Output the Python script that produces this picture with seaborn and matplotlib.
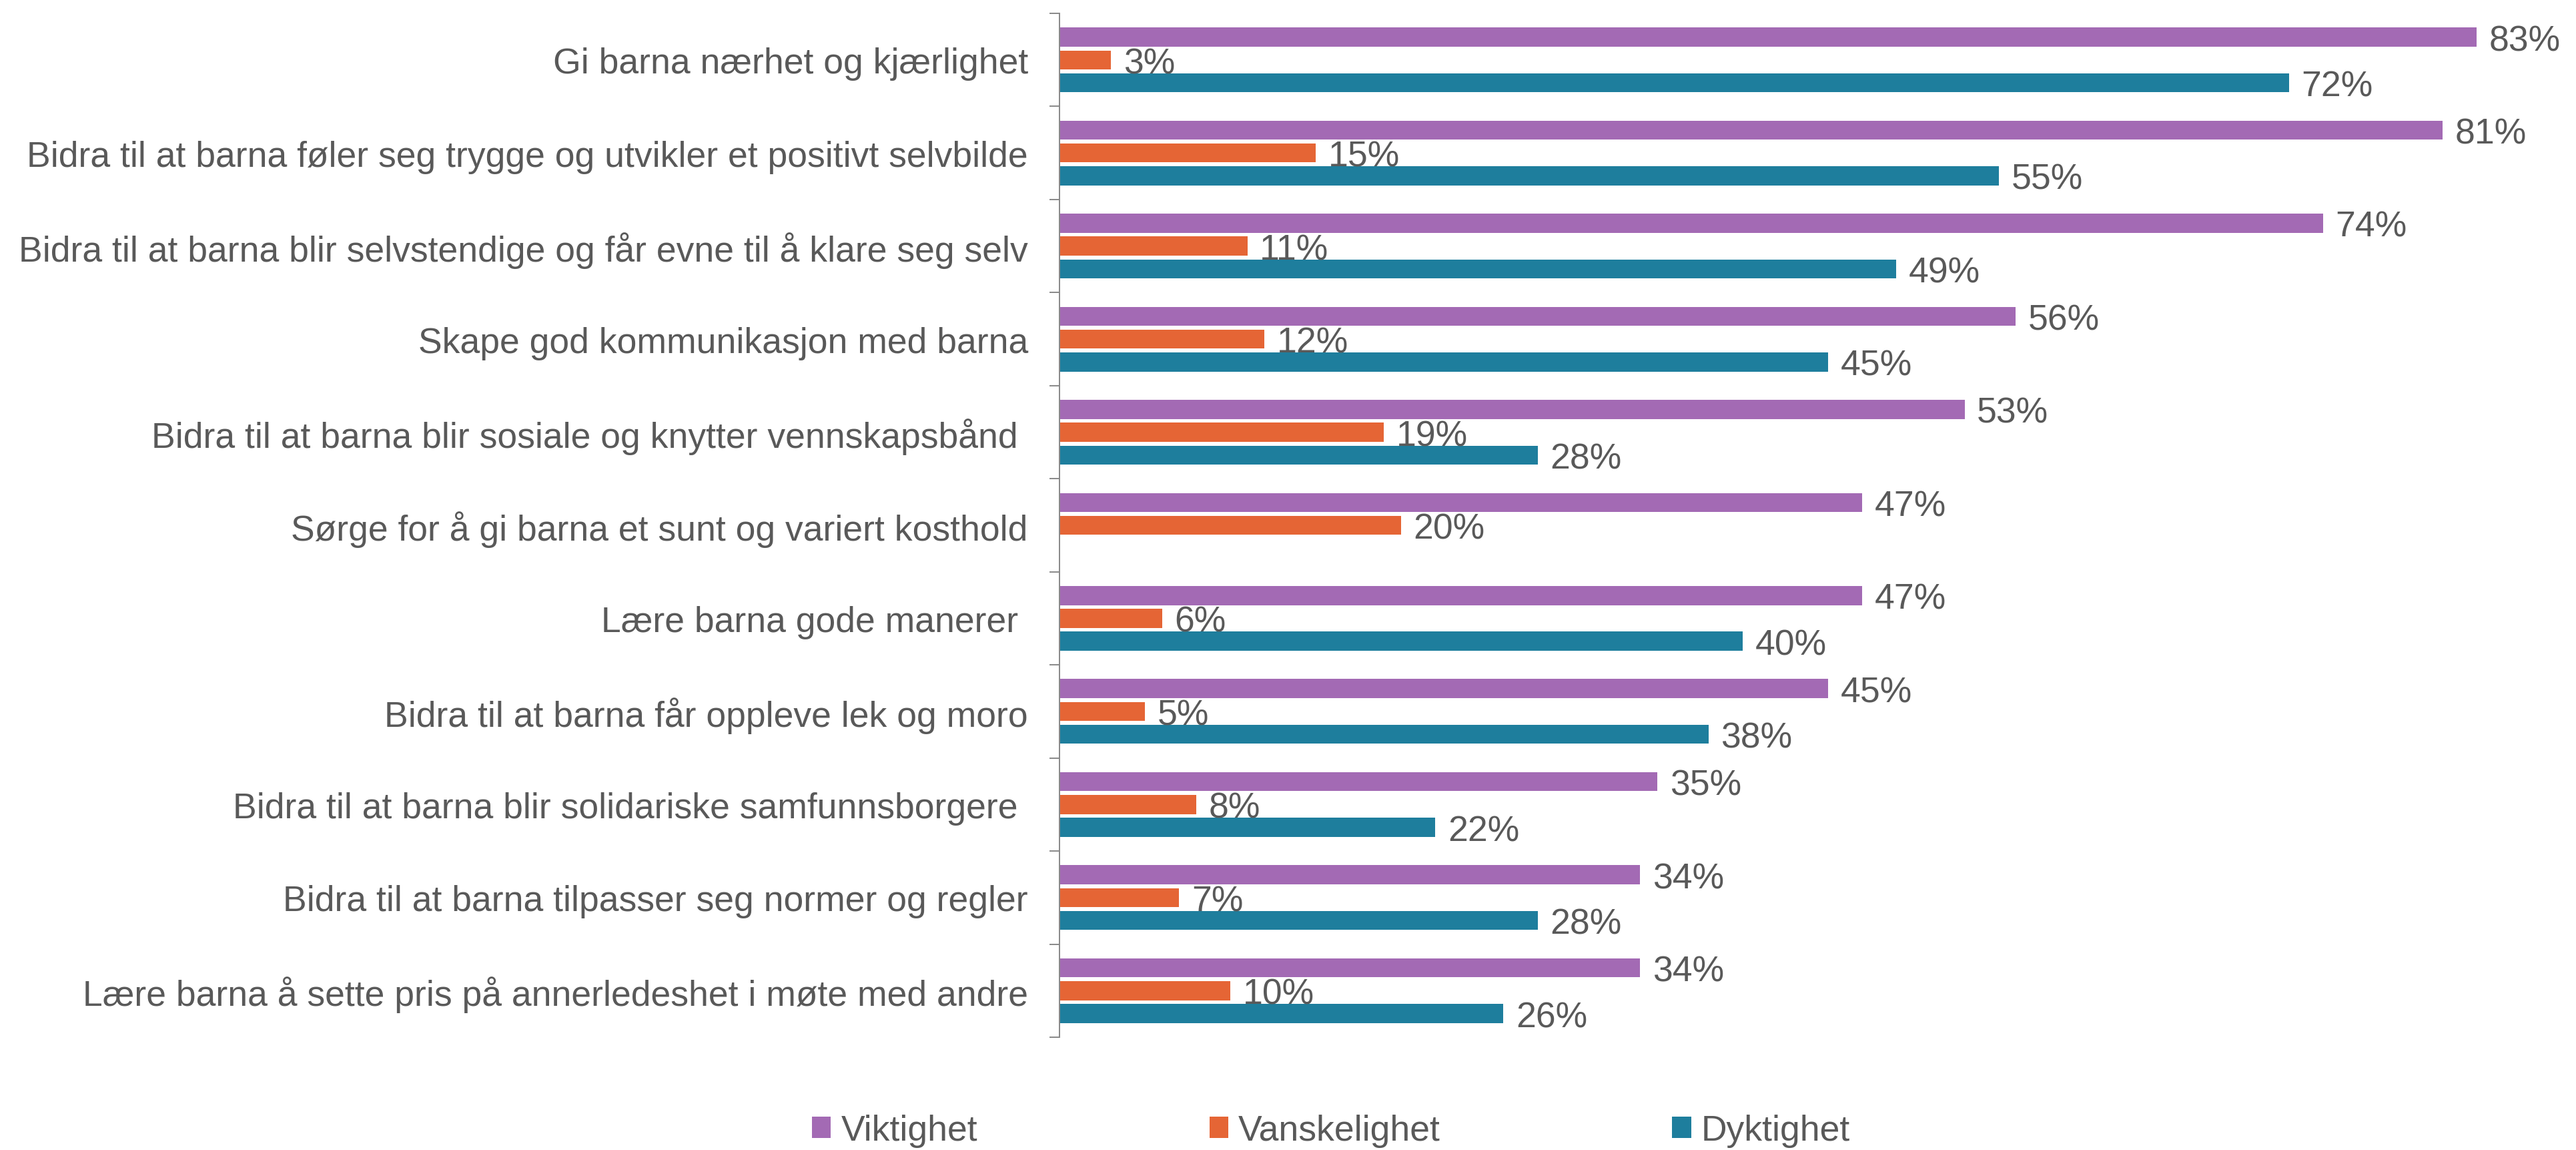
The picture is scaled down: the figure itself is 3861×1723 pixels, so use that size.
import matplotlib
matplotlib.use('Agg')
import matplotlib.pyplot as plt
import pandas as pd
import seaborn as sns

# Data (top to bottom)
kategorier = [
    'Gi barna nærhet og kjærlighet',
    'Bidra til at barna føler seg trygge og utvikler et positivt selvbilde',
    'Bidra til at barna blir selvstendige og får evne til å klare seg selv',
    'Skape god kommunikasjon med barna',
    'Bidra til at barna blir sosiale og knytter vennskapsbånd ',
    'Sørge for å gi barna et sunt og variert kosthold',
    'Lære barna gode manerer ',
    'Bidra til at barna får oppleve lek og moro',
    'Bidra til at barna blir solidariske samfunnsborgere ',
    'Bidra til at barna tilpasser seg normer og regler',
    'Lære barna å sette pris på annerledeshet i møte med andre',
]
viktighet = [83, 81, 74, 56, 53, 47, 47, 45, 35, 34, 34]
vanskelighet = [3, 15, 11, 12, 19, 20, 6, 5, 8, 7, 10]
dyktighet = [72, 55, 49, 45, 28, None, 40, 38, 22, 28, 26]
serier = ['Viktighet', 'Vanskelighet', 'Dyktighet']
farger = ['#A36AB4', '#E56535', '#1E7E9D']

df = pd.DataFrame({'Kategori': kategorier, 'Viktighet': viktighet,
                   'Vanskelighet': vanskelighet, 'Dyktighet': dyktighet})
df = df.melt(id_vars='Kategori', var_name='Serie', value_name='Andel').dropna()

sns.set_style('white')
plt.rcParams['font.family'] = ['Liberation Sans', 'DejaVu Sans']
tekstfarge = '#595959'
fs = 38.5

fig = plt.figure(figsize=(38.61, 17.24), dpi=100)
ax = fig.add_axes([0.4113, 0.098, 0.5787, 0.8898])

sns.barplot(data=df, x='Andel', y='Kategori', hue='Serie', hue_order=serier,
            order=kategorier, palette=farger, saturation=1, orient='h',
            width=0.736, gap=0.167, errorbar=None, linewidth=0, ax=ax)

for cont in ax.containers:
    tekster = ax.bar_label(cont, fmt='{:.0f}%', padding=13.5, fontsize=fs, color=tekstfarge)
    for t in tekster:
        t.set_va('center_baseline')

ax.set_xlim(0, 87.3)
ax.set_xlabel('')
ax.set_ylabel('')
ax.xaxis.set_visible(False)
for s in ['top', 'right', 'bottom']:
    ax.spines[s].set_visible(False)
ax.spines['left'].set_color('#888888')
ax.spines['left'].set_linewidth(1.4)

ax.set_yticks([i - 0.5 for i in range(12)], minor=True)
ax.tick_params(axis='y', which='major', length=0, pad=34, labelsize=fs, labelcolor=tekstfarge)
ax.tick_params(axis='y', which='minor', left=True, length=11, width=1.4, color='#888888')

handles, labels = ax.get_legend_handles_labels()
ax.get_legend().remove()
fig.legend(handles, labels, loc='center', bbox_to_anchor=(0.5167, 0.017), ncol=3,
           frameon=False, fontsize=fs, handlelength=0.53, handleheight=0.53,
           handletextpad=0.28, columnspacing=6.5, labelcolor=tekstfarge)

fig.savefig('out.png', dpi=100)
